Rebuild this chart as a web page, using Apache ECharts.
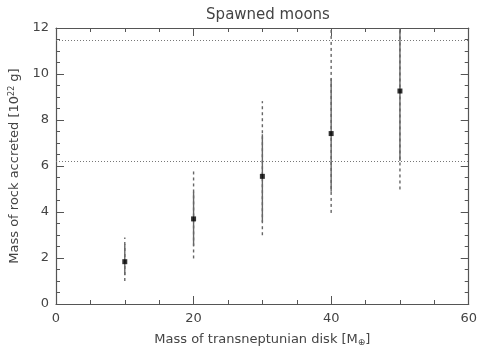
<!DOCTYPE html>
<html>
<head>
<meta charset="utf-8">
<script src="https://cdn.jsdelivr.net/npm/echarts@6/dist/echarts.min.js"></script>
<style>
html, body { margin: 0; padding: 0; background: #fff; }
#main { width: 480px; height: 352px; }
</style>
</head>
<body>
<div id="main"></div>
<script>
// disk mass (M_earth) and rock accreted (10^22 g)
var diskMass = [10, 20, 30, 40, 50];
var rockMean = [1.84, 3.70, 5.55, 7.41, 9.26];
var innerLow = [1.25, 2.53, 3.56, 4.88, 6.22];
var innerHigh = [2.60, 4.88, 7.38, 9.80, 12];
var outerLow = [1.00, 1.98, 2.99, 3.96, 4.98];
var outerHigh = [2.89, 5.88, 8.82, 12, 12];
var refLevels = [6.22, 11.45];

var axisColor = '#555';
var textColor = '#444';
var fontFam = 'DejaVu Sans, sans-serif';

var myChart = echarts.init(document.getElementById('main'));

function bars(lo, hi) {
	var out = [];
	for (var i = 0; i < diskMass.length; i++) {
		out.push([diskMass[i], lo[i], hi[i]]);
	}
	return out;
}

function barRenderer(dash) {
	return function(params, api) {
		var p1 = api.coord([api.value(0), api.value(1)]);
		var p2 = api.coord([api.value(0), api.value(2)]);
		return {
			type: 'line',
			shape: { x1: p1[0], y1: p1[1], x2: p2[0], y2: p2[1] },
			style: { stroke: '#666', lineWidth: 1.4, lineDash: dash }
		};
	};
}

function xAx(pos, showLabel) {
	return {
		type: 'value',
		position: pos,
		min: 0, max: 60, interval: 20,
		axisLine: { show: true, onZero: false, lineStyle: { color: axisColor, width: 1.2 } },
		axisTick: { show: true, inside: true, length: 8, lineStyle: { color: axisColor } },
		minorTick: { show: true, splitNumber: 4, length: 4, lineStyle: { color: axisColor } },
		splitLine: { show: false },
		axisLabel: { show: showLabel, color: textColor, fontSize: 13, fontFamily: fontFam, margin: 8 },
		name: showLabel ? 'Mass of transneptunian disk [M{sub|⊕}]' : '',
		nameLocation: 'middle',
		nameGap: 28,
		nameTextStyle: {
			color: textColor, fontSize: 13, fontFamily: fontFam,
			rich: { sub: { fontSize: 9, verticalAlign: 'bottom', padding: [6, 0, 0, 0], color: textColor } }
		}
	};
}

function yAx(pos, showLabel) {
	return {
		type: 'value',
		position: pos,
		min: 0, max: 12, interval: 2,
		axisLine: { show: true, onZero: false, lineStyle: { color: axisColor, width: 1.2 } },
		axisTick: { show: true, inside: true, length: 8, lineStyle: { color: axisColor } },
		minorTick: { show: true, splitNumber: 4, length: 4, lineStyle: { color: axisColor } },
		splitLine: { show: false },
		axisLabel: { show: showLabel, color: textColor, fontSize: 13, fontFamily: fontFam, margin: 7 },
		name: showLabel ? 'Mass of rock accreted [10{sup|22} g]' : '',
		nameLocation: 'middle',
		nameGap: 28,
		nameTextStyle: {
			color: textColor, fontSize: 13, fontFamily: fontFam,
			rich: { sup: { fontSize: 8, verticalAlign: 'top', padding: [0, 0, 6, 0], color: textColor } }
		}
	};
}

myChart.setOption({
	backgroundColor: '#fff',
	animation: false,
	title: {
		text: 'Spawned moons',
		left: 263,
		textAlign: 'center',
		top: 3,
		textStyle: { color: textColor, fontSize: 15, fontWeight: 'normal', fontFamily: fontFam }
	},
	grid: { left: 56, right: 10, top: 28, bottom: 43 },
	xAxis: [xAx('bottom', true), xAx('top', false)],
	yAxis: [yAx('left', true), yAx('right', false)],
	series: [
		{
			name: 'outer',
			type: 'custom',
			clip: true,
			renderItem: barRenderer([3, 3]),
			data: bars(outerLow, outerHigh),
			z: 2
		},
		{
			name: 'inner',
			type: 'custom',
			clip: true,
			renderItem: barRenderer(null),
			data: bars(innerLow, innerHigh),
			z: 3
		},
		{
			name: 'mean',
			type: 'scatter',
			symbol: 'rect',
			symbolSize: 5,
			itemStyle: { color: '#000' },
			data: diskMass.map(function(x, i) { return [x, rockMean[i]]; }),
			z: 5,
			markLine: {
				silent: true,
				symbol: 'none',
				label: { show: false },
				lineStyle: { type: [1, 2], color: '#777', width: 1 },
				data: refLevels.map(function(v) { return { yAxis: v }; })
			}
		}
	]
});
</script>
</body>
</html>
